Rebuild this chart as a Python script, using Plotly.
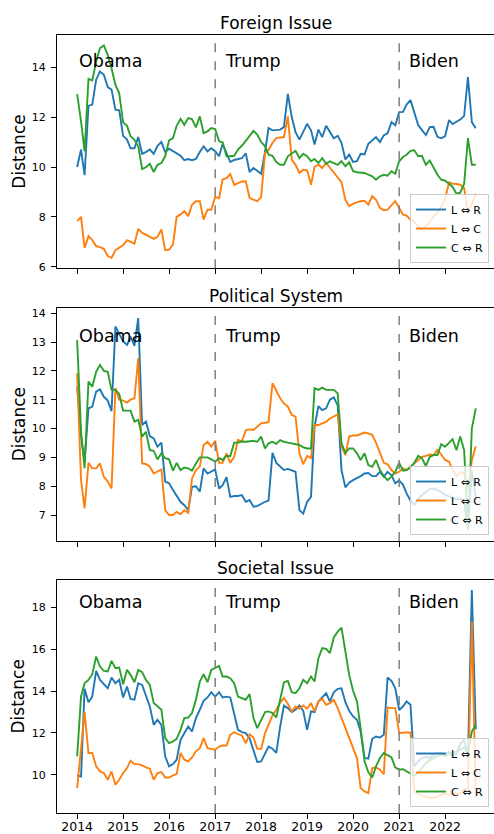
import plotly.graph_objects as go
import pandas as pd

# ---------------- data ----------------
months = pd.date_range("2014-01-01", periods=105, freq="MS")

series_names = ["L \u21d4 R", "L \u21d4 C", "C \u21d4 R"]
panel_titles = ["Foreign Issue", "Political System", "Societal Issue"]
eras = ["Obama", "Trump", "Biden"]
era_dates = ["2014-01-01", "2017-03-01", "2021-03-01"]
boundary_dates = ["2017-01-01", "2021-01-01"]
year_ticks = ["2014", "2015", "2016", "2017", "2018", "2019", "2020", "2021", "2022"]

fi_lr = [10.0, 10.7, 9.67, 12.45, 12.5, 13.5, 13.83, 13.7, 13.2, 13.1,
         12.3, 12.27, 11.25, 11.1, 10.75, 10.75, 11.2, 10.53, 10.6, 10.7,
         10.53, 10.85, 11.0, 10.6, 10.73, 10.63, 10.53, 10.45, 10.27, 10.32,
         10.27, 10.32, 10.6, 10.83, 10.63, 10.75, 10.63, 10.43, 10.93, 10.55,
         10.2, 10.28, 10.3, 10.35, 10.55, 9.8, 9.96, 9.85, 9.73, 10.6,
         11.56, 11.47, 11.47, 11.5, 11.6, 12.93, 12.0, 11.4, 11.1, 11.4,
         11.73, 11.47, 10.9, 11.5, 11.2, 11.65, 11.4, 11.15, 11.25, 10.97,
         10.3, 10.5, 10.2, 10.23, 10.53, 10.5, 10.93, 11.07, 11.2, 11.0,
         11.27, 11.35, 11.8, 11.67, 12.2, 12.21, 12.5, 12.68, 12.2, 11.68,
         11.48, 11.28, 11.6, 11.61, 11.21, 11.15, 11.24, 11.88, 11.72, 11.81,
         11.9, 12.05, 13.6, 11.8, 11.55]
fi_lc = [7.83, 8.0, 6.76, 7.23, 7.07, 6.83, 6.79, 6.72, 6.43, 6.36,
         6.67, 6.76, 6.87, 7.07, 7.0, 6.93, 7.52, 7.36, 7.29, 7.2,
         7.12, 7.2, 7.5, 6.67, 6.69, 6.89, 8.0, 8.1, 8.23, 8.03,
         8.49, 8.63, 8.63, 7.89, 8.29, 8.29, 8.8, 8.75, 9.5, 9.55,
         9.72, 9.28, 9.35, 9.42, 9.43, 8.76, 8.69, 8.63, 8.79, 10.56,
         10.69, 10.96, 11.16, 11.18, 11.2, 12.03, 10.29, 10.09, 9.76, 9.89,
         9.87, 9.29, 10.0, 10.09, 9.96, 10.16, 9.96, 9.76, 9.56, 9.39,
         8.69, 8.43, 8.53, 8.59, 8.63, 8.65, 8.49, 8.83, 8.69, 8.36,
         8.27, 8.29, 8.45, 8.63, 8.36, 8.09, 8.05, 7.89, 7.79, 7.65,
         7.49, 7.63, 7.79, 8.03, 8.16, 8.43, 8.72, 9.39, 9.33, 9.32,
         9.29, 9.16, 8.16, 8.53, 8.93]
fi_cr = [12.92, 11.83, 10.63, 13.53, 13.47, 14.23, 14.76, 14.87, 14.49, 13.96,
         13.29, 12.96, 11.79, 11.65, 11.23, 11.09, 10.83, 9.92, 9.99, 10.13,
         9.8, 10.09, 10.16, 10.43, 11.07, 11.16, 11.65, 11.93, 11.69, 11.96,
         11.92, 11.59, 12.03, 11.36, 11.43, 11.56, 11.52, 11.03, 10.99, 10.43,
         10.43, 10.45, 10.7, 10.85, 11.05, 11.25, 11.45, 11.3, 11.0, 10.83,
         10.49, 10.45, 10.2, 10.09, 10.09, 10.43, 10.56, 10.65, 10.36, 10.53,
         10.43, 10.23, 10.32, 10.16, 10.36, 10.13, 10.23, 10.16, 10.09, 10.23,
         10.03, 10.19, 9.83, 9.79, 9.79, 9.76, 9.69, 9.63, 9.49, 9.63,
         9.69, 9.65, 9.83, 9.73, 10.23, 10.4, 10.49, 10.65, 10.67, 10.43,
         10.45, 10.09, 10.26, 9.96, 9.69, 9.49, 9.45, 9.33, 9.2, 8.93,
         8.97, 9.33, 11.16, 10.09, 10.09]

ps_lr = [11.45, 9.72, 8.85, 10.7, 10.76, 11.28, 11.36, 11.1, 10.97, 10.6,
         13.54, 13.3, 13.02, 12.9, 13.19, 12.87, 13.83, 10.12, 10.24, 9.74,
         9.66, 9.37, 9.51, 8.16, 8.1, 7.87, 7.66, 7.46, 7.34, 7.17,
         7.98, 8.0, 7.81, 8.62, 8.44, 8.5, 8.58, 7.92, 8.04, 8.31,
         7.63, 7.66, 7.66, 7.69, 7.46, 7.52, 7.29, 7.31, 7.4, 7.46,
         7.5, 9.16, 8.81, 8.7, 8.56, 8.6, 8.56, 8.5, 7.17, 7.05,
         7.46, 7.63, 10.06, 10.78, 10.64, 10.7, 11.0, 11.08, 10.8, 8.56,
         7.96, 8.12, 8.21, 8.27, 8.35, 8.44, 8.46, 8.35, 8.35, 8.5,
         8.33, 8.5, 8.38, 8.1, 8.2, 8.05, 7.75, 7.5, 7.35, 7.55,
         7.7, 7.8, 7.9, 7.92, 7.86, 7.8, 7.7, 7.65, 7.57, 7.55,
         7.57, 7.46, 6.5, 8.55, 7.6]
ps_lc = [11.92, 8.21, 7.23, 8.81, 8.62, 8.62, 8.79, 8.33, 8.16, 7.92,
         11.4, 11.0, 10.97, 10.9, 11.0, 11.05, 12.44, 8.79, 8.77, 8.68,
         8.44, 8.5, 8.58, 7.17, 7.0, 7.0, 7.11, 7.03, 7.17, 7.08,
         8.27, 8.56, 8.68, 9.43, 9.54, 9.37, 9.58, 8.81, 8.81, 9.14,
         8.81, 9.02, 9.6, 9.56, 9.95, 9.97, 9.95, 10.06, 10.18, 10.2,
         10.23, 11.57, 11.3, 11.05, 10.87, 10.76, 10.47, 10.41, 9.14, 8.76,
         9.05, 8.97, 10.12, 10.12, 10.18, 10.23, 10.35, 10.41, 10.49, 9.39,
         9.08, 9.72, 9.76, 9.76, 9.81, 9.86, 9.83, 9.78, 9.51, 9.18,
         8.81, 8.76, 8.56, 8.44, 8.5, 8.62, 8.56, 8.68, 8.79, 8.91,
         9.02, 9.05, 9.1, 9.08, 9.26, 9.1, 8.91, 8.85, 8.56, 8.35,
         8.5, 8.44, 7.9, 8.9, 9.39]
ps_cr = [13.07, 9.89, 8.62, 11.63, 11.45, 11.97, 12.2, 12.0, 11.97, 11.34,
         11.34, 11.2, 10.62, 10.62, 10.62, 10.24, 10.3, 9.72, 9.89, 9.25,
         9.23, 8.93, 9.14, 8.97, 8.93, 8.54, 8.81, 8.56, 8.65, 8.62,
         8.54, 8.79, 9.0, 9.0, 9.0, 8.93, 8.85, 8.97, 8.91, 9.05,
         9.05, 9.51, 9.51, 9.55, 9.54, 9.56, 9.57, 9.54, 9.72, 9.31,
         9.49, 9.54, 9.47, 9.6, 9.54, 9.51, 9.49, 9.47, 9.43, 9.35,
         9.31, 9.31, 11.4, 11.34, 11.42, 11.34, 11.34, 11.34, 11.22, 9.49,
         9.16, 9.31, 9.31, 9.14, 8.91, 9.14, 8.73, 8.67, 8.91, 8.56,
         8.35, 8.21, 8.33, 8.5, 8.81, 8.54, 8.56, 8.65, 8.81, 9.05,
         8.97, 8.7, 9.02, 9.08, 9.08, 9.46, 9.37, 9.49, 9.63, 9.25,
         9.72, 9.25, 6.5, 10.0, 10.7]

si_lr = [9.97, 9.92, 14.11, 13.47, 13.74, 14.97, 14.54, 14.35, 14.14, 14.65,
         14.38, 14.54, 13.7, 14.22, 13.63, 13.59, 14.38, 14.3, 13.74, 13.27,
         12.39, 12.63, 12.39, 10.88, 10.4,
         10.51, 10.72, 11.67, 11.99, 12.31, 12.07, 12.71, 13.11, 13.54, 13.7,
         13.95, 13.74, 13.95, 13.7, 13.74, 13.7, 12.95, 12.15, 12.04, 11.99,
         11.75, 11.12, 10.61, 10.64, 11.04, 11.35,
         11.25, 11.05, 12.3, 13.31, 13.19, 13.0, 13.11, 13.31, 13.06, 12.15,
         13.03, 13.0, 13.51, 13.7, 13.9, 13.51, 13.95, 14.11, 14.14, 13.47,
         13.06, 12.79, 12.63, 12.07, 10.8, 10.77, 11.72, 11.83, 11.78, 11.91,
         14.65, 14.49, 14.14, 13.1,
         13.27, 13.51, 13.35, 10.4, 10.65, 10.8, 10.85, 10.8, 10.95, 11.05,
         11.0, 10.98, 11.1, 10.9, 11.0, 11.48, 11.67, 10.8, 18.84, 12.18]
si_lc = [9.36, 11.27, 13.0, 11.04, 11.04, 10.4, 10.16, 10.08, 9.76, 10.16,
         9.52, 9.76, 10.08, 10.32, 10.67, 10.51, 10.51, 10.45, 10.35, 10.29,
         9.76, 10.08, 10.13, 9.87, 9.87,
         9.97, 10.03, 11.04, 10.72, 10.64, 10.83, 11.12, 11.27, 11.75, 11.27,
         11.24, 11.2, 11.35, 11.4, 11.4, 11.91, 12.04, 11.94, 11.88, 11.51,
         11.94, 11.78, 11.24, 11.24, 11.99, 12.39,
         12.84, 13.11, 13.45, 13.67, 13.4, 13.03, 13.27, 13.16, 13.31, 13.16,
         13.43, 13.03, 13.51, 13.63, 13.35, 13.43, 13.59, 13.19, 12.71, 12.2,
         11.75, 11.27, 10.8, 9.36, 9.2, 9.12, 10.32, 10.35, 10.24, 10.03,
         13.22, 13.19, 13.19, 12.0,
         12.02, 12.02, 12.02, 9.2, 9.1, 9.0, 8.95, 8.9, 8.9, 8.95,
         9.05, 9.1, 9.05, 9.1, 9.1, 9.1, 9.3, 9.3, 17.33, 8.9]
si_cr = [10.88, 13.75, 14.38, 14.54, 14.81, 15.66, 15.18, 14.97, 14.94, 15.45,
         15.1, 15.13, 14.33, 15.02, 14.78, 14.43, 15.02, 14.91, 14.54, 14.3,
         13.43, 13.27, 13.11, 11.75, 11.51,
         11.59, 11.72, 12.15, 12.71, 12.74, 12.95, 13.59, 14.46, 14.81, 14.43,
         15.02, 15.1, 15.21, 14.7, 14.7, 14.62, 14.38, 13.74, 13.67, 13.59,
         13.86, 12.71, 12.23, 12.58, 13.0, 13.03,
         12.95, 12.74, 13.59, 14.43, 14.49, 13.95, 13.9, 14.14, 14.54, 14.38,
         14.7, 14.46, 15.58, 16.06, 16.02, 15.82, 16.57, 16.85, 17.04, 15.97,
         14.78, 14.02, 13.51, 12.23, 10.64, 10.13, 9.87, 10.4, 10.8, 11.04,
         10.92, 10.83, 10.35, 10.24,
         10.27, 10.16, 10.05, 9.95, 10.1, 10.3, 10.55, 10.7, 10.8, 10.9,
         10.95, 10.9, 11.0, 11.05, 11.1, 11.2, 11.3, 11.1, 12.07, 12.39]

panels = [[fi_lr, fi_lc, fi_cr], [ps_lr, ps_lc, ps_cr], [si_lr, si_lc, si_cr]]
era_label_y = [14, 13, 18]

# ---------------- styling ----------------
colors = ["#1f77b4", "#ff7f0e", "#2ca02c"]
FONT = "DejaVu Sans"
W, H = 494, 834
M_L, M_R, M_T, M_B = 57, 0, 35, 21
y_domains = [[0.7001, 1.0], [0.3496, 0.6495], [0.0, 0.2995]]
y_ranges = [[5.94, 15.29], [6.10, 14.19], [8.17, 19.32]]
y_dticks = [2, 1, 2]
legend_y = [0.7069, 0.3573, 0.0077]
x_range = ["2013-07-25", "2023-01-24"]

fig = go.Figure()
for p, series in enumerate(panels):
    xa = "x" if p == 0 else f"x{p + 1}"
    ya = "y" if p == 0 else f"y{p + 1}"
    lg = "legend" if p == 0 else f"legend{p + 1}"
    for s, vals in enumerate(series):
        fig.add_trace(go.Scatter(
            x=months, y=vals, mode="lines", name=series_names[s],
            line=dict(color=colors[s], width=1.9),
            xaxis=xa, yaxis=ya, legend=lg, showlegend=True,
            hoverinfo="skip"))

layout = dict(
    width=W, height=H,
    margin=dict(l=M_L, r=M_R, t=M_T, b=M_B, autoexpand=False),
    paper_bgcolor="white", plot_bgcolor="white",
    font=dict(family=FONT, color="black", size=11),
    showlegend=True,
)
axis_common = dict(showline=True, linecolor="black", linewidth=1,
                   ticks="outside", ticklen=5, tickwidth=1, tickcolor="black",
                   showgrid=False, zeroline=False, automargin=False)
for p in range(3):
    xk = "xaxis" if p == 0 else f"xaxis{p + 1}"
    yk = "yaxis" if p == 0 else f"yaxis{p + 1}"
    ya = "y" if p == 0 else f"y{p + 1}"
    xdict = dict(axis_common, domain=[0, 1], anchor=ya, type="date",
                 range=x_range, mirror=True,
                 tickvals=[f"{y}-01-01" for y in year_ticks], ticktext=year_ticks,
                 showticklabels=(p == 2), ticklabelstandoff=-3,
                 tickfont=dict(size=12.5, family=FONT, color="black"))
    if p > 0:
        xdict["matches"] = "x"
    layout[xk] = xdict
    layout[yk] = dict(axis_common, domain=y_domains[p], anchor=("x" if p == 0 else f"x{p + 1}"),
                      range=y_ranges[p], dtick=y_dticks[p], tick0=0, mirror=False,
                      tickfont=dict(size=11, family=FONT, color="black"),
                      ticklabelstandoff=3)
    lk = "legend" if p == 0 else f"legend{p + 1}"
    layout[lk] = dict(x=0.9886, xanchor="right", y=legend_y[p], yanchor="bottom",
                      bgcolor="rgba(255,255,255,0.8)", bordercolor="#cccccc",
                      borderwidth=1, itemwidth=30, tracegroupgap=0,
                      font=dict(size=11, family=FONT, color="black"))
fig.update_layout(**layout)

shapes = []
annotations = []
for p in range(3):
    xr = "x" if p == 0 else f"x{p + 1}"
    yr = "y" if p == 0 else f"y{p + 1}"
    for d in boundary_dates:
        shapes.append(dict(type="line", xref=xr, yref=f"{yr} domain",
                           x0=d, x1=d, y0=0, y1=1,
                           line=dict(color="#7f7f7f", width=1.5, dash="dash")))
    for e, d in zip(eras, era_dates):
        annotations.append(dict(text=e, xref=xr, yref=yr, x=d, y=era_label_y[p],
                                xanchor="left", yanchor="bottom", yshift=-6,
                                showarrow=False,
                                font=dict(size=17.5, family=FONT, color="black")))
    top = y_domains[p][1]
    mid = (y_domains[p][0] + y_domains[p][1]) / 2
    annotations.append(dict(text=panel_titles[p], xref="paper", yref="paper",
                            x=0.5, y=top, xanchor="center", yanchor="bottom",
                            yshift=0, showarrow=False,
                            font=dict(size=17, family=FONT, color="black")))
    annotations.append(dict(text="Distance", xref="paper", yref="paper",
                            x=-0.087, y=mid, xanchor="center", yanchor="middle",
                            textangle=-90, showarrow=False,
                            font=dict(size=17, family=FONT, color="black")))
fig.update_layout(shapes=shapes, annotations=annotations)

fig.write_html(
    "out.html",
    config={"displayModeBar": False, "responsive": False},
    post_script="document.body.style.margin='0';document.body.style.overflow='hidden';",
)
